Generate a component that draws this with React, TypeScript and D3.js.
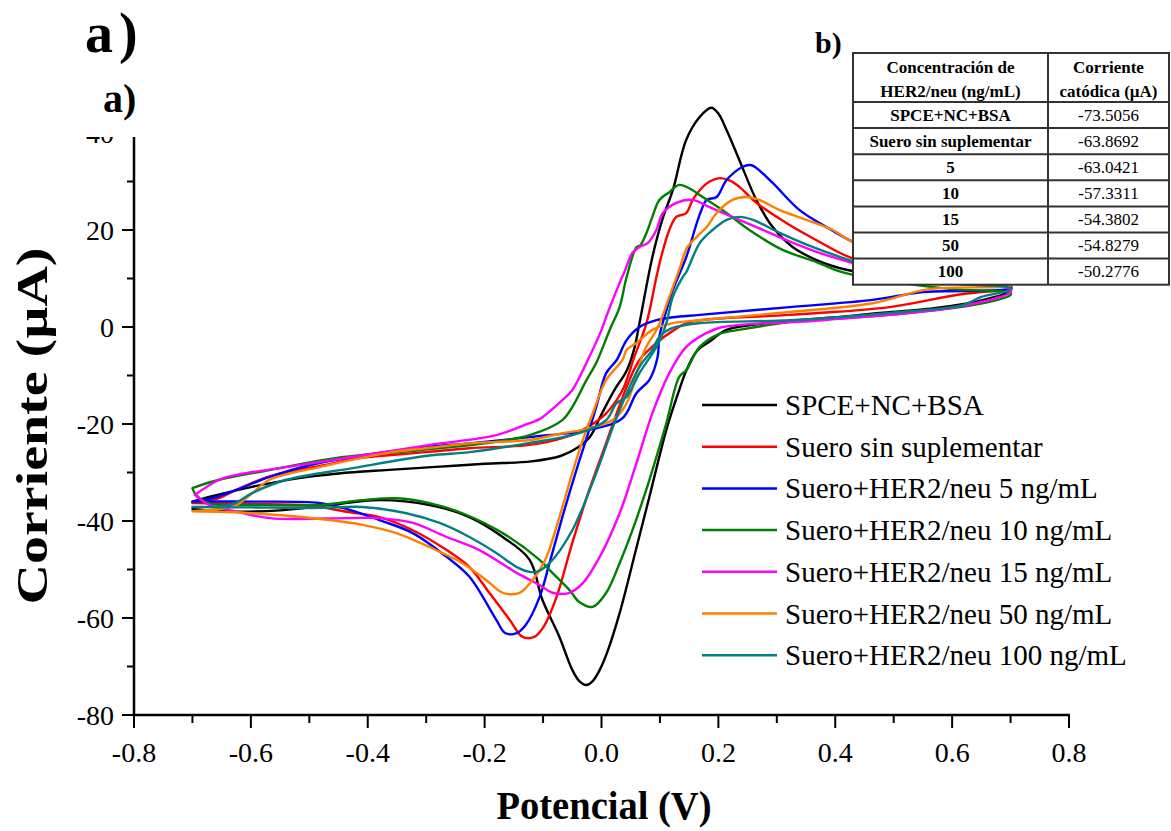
import React from 'react';
import * as d3 from 'd3';

type Pt = [number, number];

// ---------- axis ticks ----------
const xTicks = [-0.8, -0.6, -0.4, -0.2, 0, 0.2, 0.4, 0.6, 0.8];
const xMinorTicks = [-0.7, -0.5, -0.3, -0.1, 0.1, 0.3, 0.5, 0.7];
const yTicks = [-80, -60, -40, -20, 0, 20, 40];
const yMinorTicks = [-70, -50, -30, -10, 10, 30];

// ---------- series ----------
const seriesNames = [
  'SPCE+NC+BSA',
  'Suero sin suplementar',
  'Suero+HER2/neu 5 ng/mL',
  'Suero+HER2/neu 10 ng/mL',
  'Suero+HER2/neu 15 ng/mL',
  'Suero+HER2/neu 50 ng/mL',
  'Suero+HER2/neu 100 ng/mL',
];
const seriesColors = ['#000000', '#ff0000', '#0000ff', '#008000', '#ff00ff', '#ff8000', '#008080'];

// Potential (V), current (µA) — forward scan then reverse scan
const spceNcBsa: Pt[] = [
  [-0.70, -36.0], [-0.67, -35.0], [-0.60, -33.0], [-0.52, -31.2], [-0.45, -30.2], [-0.37, -29.5],
  [-0.29, -28.9], [-0.20, -28.2], [-0.12, -27.7], [-0.07, -26.6], [-0.04, -24.8], [-0.02, -22.7],
  [0.00, -18.0], [0.022, -13.0], [0.043, -9.0], [0.056, -4.5], [0.065, 0.8], [0.087, 14.4],
  [0.105, 22.5], [0.122, 28.2], [0.145, 38.6], [0.168, 43.3], [0.188, 45.2], [0.200, 44.0],
  [0.214, 40.6], [0.236, 34.4], [0.265, 26.2], [0.293, 20.6], [0.327, 16.5], [0.368, 13.8],
  [0.419, 11.8], [0.50, 10.2], [0.60, 9.0], [0.70, 8.3],
  [0.70, 7.5], [0.65, 5.5], [0.55, 3.6], [0.476, 2.9], [0.412, 2.1], [0.30, 1.0], [0.214, -0.6],
  [0.185, -3.0], [0.163, -5.0], [0.145, -9.0], [0.133, -13.0], [0.111, -21.2], [0.082, -35.0],
  [0.060, -45.4], [0.031, -59.0], [0.010, -67.0], [-0.003, -70.7], [-0.015, -73.0], [-0.026, -73.8],
  [-0.038, -73.0], [-0.050, -70.7], [-0.072, -63.9], [-0.101, -56.3], [-0.123, -48.0], [-0.169, -43.3],
  [-0.226, -39.2], [-0.294, -36.7], [-0.38, -35.7], [-0.465, -36.7], [-0.55, -37.8], [-0.65, -38.0],
  [-0.70, -37.5],
];

const sueroSinSuplementar: Pt[] = [
  [-0.70, -36.3], [-0.66, -35.5], [-0.625, -33.6], [-0.585, -31.5], [-0.539, -29.9], [-0.465, -28.3],
  [-0.426, -27.2], [-0.30, -25.8], [-0.226, -25.0], [-0.123, -24.3], [-0.067, -22.9], [-0.032, -21.2],
  [0.008, -17.8], [0.036, -13.0], [0.056, -6.2], [0.077, 0.8], [0.094, 10.3], [0.102, 14.4],
  [0.116, 20.0], [0.128, 22.7], [0.145, 23.5], [0.156, 26.2], [0.168, 28.2], [0.185, 30.0],
  [0.202, 30.7], [0.220, 30.2], [0.236, 28.9], [0.265, 25.6], [0.317, 21.4], [0.368, 17.9],
  [0.424, 14.4], [0.50, 11.5], [0.60, 9.2], [0.70, 8.2],
  [0.70, 7.8], [0.65, 7.2], [0.607, 6.6], [0.493, 4.1], [0.322, 2.5], [0.151, 1.0], [0.122, -0.8],
  [0.094, -3.3], [0.065, -6.8], [0.048, -10.9], [0.026, -17.8], [0.008, -23.9], [-0.021, -33.6],
  [-0.050, -44.5], [-0.077, -55.7], [-0.100, -62.0], [-0.115, -63.9], [-0.135, -63.9], [-0.157, -60.4],
  [-0.192, -54.8], [-0.226, -49.5], [-0.265, -46.0], [-0.323, -41.9], [-0.38, -39.2], [-0.436, -38.1],
  [-0.50, -36.8], [-0.60, -36.5], [-0.70, -36.3],
];

const her2_5: Pt[] = [
  [-0.70, -36.0], [-0.666, -35.3], [-0.625, -33.6], [-0.568, -30.9], [-0.50, -28.5], [-0.426, -26.8],
  [-0.294, -24.7], [-0.226, -24.0], [-0.123, -22.7], [-0.021, -21.2], [0.036, -18.8], [0.060, -13.6],
  [0.082, -10.9], [0.096, -6.2], [0.099, -2.0], [0.110, 3.0], [0.122, 7.6], [0.145, 14.4],
  [0.163, 21.4], [0.170, 23.8], [0.180, 26.2], [0.197, 26.8], [0.214, 30.3], [0.241, 33.0],
  [0.255, 33.4], [0.265, 32.8], [0.293, 29.7], [0.339, 24.1], [0.385, 20.6], [0.424, 17.9],
  [0.50, 14.0], [0.60, 10.5], [0.70, 8.6],
  [0.70, 8.0], [0.55, 7.2], [0.464, 5.6], [0.322, 4.1], [0.168, 2.5], [0.122, 2.0], [0.094, 1.4],
  [0.065, 0.0], [0.043, -2.7], [0.026, -6.8], [0.008, -9.5], [-0.009, -16.5], [-0.021, -21.2],
  [-0.043, -29.5], [-0.067, -39.2], [-0.089, -48.7], [-0.106, -55.7], [-0.130, -61.5], [-0.145, -63.1],
  [-0.165, -63.1], [-0.180, -60.4], [-0.226, -51.5], [-0.265, -47.4], [-0.323, -42.5], [-0.38, -39.8],
  [-0.431, -37.7], [-0.483, -36.3], [-0.597, -36.0], [-0.683, -36.0], [-0.70, -36.0],
];

const her2_10: Pt[] = [
  [-0.70, -33.2], [-0.654, -31.5], [-0.568, -29.5], [-0.453, -27.0], [-0.311, -25.4], [-0.20, -24.0],
  [-0.123, -22.3], [-0.067, -19.2], [-0.050, -16.5], [-0.026, -11.0], [-0.009, -7.4], [0.014, -0.6],
  [0.031, 4.1], [0.043, 10.3], [0.060, 16.5], [0.066, 16.8], [0.077, 19.4], [0.087, 22.7],
  [0.099, 26.2], [0.116, 27.8], [0.133, 29.3], [0.156, 28.2], [0.168, 27.2], [0.214, 23.5],
  [0.253, 20.0], [0.31, 15.9], [0.368, 13.4], [0.412, 11.3], [0.50, 9.3], [0.60, 7.8], [0.70, 7.0],
  [0.70, 6.6], [0.635, 4.5], [0.493, 2.5], [0.322, 1.0], [0.24, -0.5], [0.20, -1.5], [0.168, -4.1],
  [0.145, -8.9], [0.133, -10.3], [0.111, -19.8], [0.082, -31.5], [0.053, -41.9], [0.031, -48.7],
  [0.008, -54.8], [-0.015, -57.7], [-0.038, -56.7], [-0.055, -54.2], [-0.084, -50.7], [-0.106, -48.0],
  [-0.169, -42.5], [-0.238, -38.4], [-0.294, -36.3], [-0.351, -35.3], [-0.409, -35.7], [-0.483, -36.7],
  [-0.597, -36.7], [-0.67, -36.4], [-0.694, -34.6], [-0.70, -33.2],
];

const her2_15: Pt[] = [
  [-0.696, -34.6], [-0.654, -31.5], [-0.625, -30.5], [-0.539, -28.9], [-0.426, -26.8], [-0.294, -24.3],
  [-0.18, -22.3], [-0.123, -19.8], [-0.106, -19.0], [-0.067, -15.1], [-0.050, -13.0], [-0.021, -6.2],
  [0.000, -0.6], [0.008, 2.1], [0.031, 9.1], [0.039, 11.3], [0.053, 15.3], [0.065, 16.5],
  [0.079, 17.3], [0.094, 20.0], [0.105, 23.5], [0.128, 25.6], [0.156, 26.2], [0.185, 24.7],
  [0.224, 22.7], [0.265, 20.6], [0.317, 17.9], [0.368, 15.5], [0.424, 13.4], [0.50, 11.0],
  [0.60, 9.0], [0.70, 7.8],
  [0.70, 7.2], [0.607, 4.1], [0.378, 1.4], [0.207, 0.0], [0.18, -1.2], [0.145, -4.1], [0.116, -9.5],
  [0.087, -17.8], [0.060, -28.0], [0.031, -38.4], [-0.003, -47.4], [-0.032, -52.8], [-0.055, -54.8],
  [-0.084, -54.8], [-0.106, -53.2], [-0.145, -50.7], [-0.209, -46.0], [-0.265, -43.3], [-0.323, -40.4],
  [-0.38, -39.4], [-0.436, -39.4], [-0.568, -39.4], [-0.637, -37.7], [-0.671, -36.7], [-0.696, -34.6],
];

const her2_50: Pt[] = [
  [-0.70, -38.0], [-0.654, -37.5], [-0.625, -36.7], [-0.597, -34.2], [-0.568, -31.5], [-0.483, -28.9],
  [-0.368, -26.0], [-0.294, -24.9], [-0.226, -24.0], [-0.123, -23.3], [-0.067, -21.9], [-0.032, -21.2],
  [0.019, -19.2], [0.036, -17.1], [0.048, -14.4], [0.060, -9.5], [0.075, -4.5], [0.094, -0.6],
  [0.105, 2.5], [0.116, 6.2], [0.133, 11.8], [0.147, 16.5], [0.163, 18.6], [0.18, 20.6],
  [0.197, 23.5], [0.224, 26.2], [0.248, 26.8], [0.27, 26.2], [0.305, 24.1], [0.351, 22.1],
  [0.396, 20.0], [0.424, 17.9], [0.50, 14.5], [0.60, 11.0], [0.70, 8.8],
  [0.70, 8.5], [0.561, 7.8], [0.464, 4.9], [0.322, 3.1], [0.168, 1.4], [0.122, 0.8], [0.087, -0.6],
  [0.060, -3.3], [0.043, -4.7], [0.036, -6.8], [0.008, -10.9], [-0.015, -17.8], [-0.032, -23.3],
  [-0.050, -30.1], [-0.072, -39.2], [-0.094, -47.4], [-0.106, -50.1], [-0.128, -53.6], [-0.140, -54.8],
  [-0.169, -54.8], [-0.197, -52.2], [-0.238, -48.7], [-0.294, -45.4], [-0.351, -42.5], [-0.409, -40.8],
  [-0.465, -39.8], [-0.597, -38.4], [-0.70, -38.0],
];

const her2_100: Pt[] = [
  [-0.70, -37.1], [-0.654, -37.0], [-0.63, -36.5], [-0.597, -34.2], [-0.539, -31.5], [-0.426, -29.1],
  [-0.294, -26.5], [-0.226, -25.8], [-0.123, -23.9], [-0.038, -21.9], [0.008, -19.2], [0.026, -15.7],
  [0.043, -14.4], [0.065, -9.5], [0.087, -5.5], [0.099, -3.0], [0.111, 0.8], [0.122, 6.2],
  [0.139, 10.3], [0.145, 11.3], [0.168, 17.3], [0.19, 20.0], [0.214, 22.1], [0.236, 22.7],
  [0.259, 22.1], [0.305, 19.4], [0.361, 16.5], [0.424, 13.8], [0.50, 11.0], [0.60, 9.0], [0.70, 8.0],
  [0.698, 7.6], [0.65, 6.2], [0.618, 4.5], [0.493, 2.9], [0.322, 1.4], [0.168, 0.8], [0.122, -0.2],
  [0.099, -2.0], [0.087, -4.7], [0.065, -8.2], [0.026, -18.6], [-0.009, -30.1], [-0.050, -41.9],
  [-0.089, -48.7], [-0.111, -50.5], [-0.123, -50.5], [-0.145, -49.5], [-0.18, -46.6], [-0.226, -43.3],
  [-0.277, -40.4], [-0.334, -38.4], [-0.409, -37.1], [-0.483, -37.3], [-0.60, -37.2], [-0.70, -37.1],
];

const allSeries = [spceNcBsa, sueroSinSuplementar, her2_5, her2_10, her2_15, her2_50, her2_100];

// ---------- table (panel b) ----------
const tableHeaderLeft = ['Concentración de', 'HER2/neu (ng/mL)'];
const tableHeaderRight = ['Corriente', 'catódica (µA)'];
const tableLabels = ['SPCE+NC+BSA', 'Suero sin suplementar', '5', '10', '15', '50', '100'];
const tableValues = ['-73.5056', '-63.8692', '-63.0421', '-57.3311', '-54.3802', '-54.8279', '-50.2776'];

const SERIF = "'Liberation Serif', 'Times New Roman', Times, serif";

export default function App() {
  const W = 1171;
  const H = 831;
  const x = d3.scaleLinear().domain([-0.8, 0.8]).range([134, 1069]);
  const y = d3.scaleLinear().domain([-80, 40]).range([715, 133]);
  const line = d3
    .line<Pt>()
    .x((d) => x(d[0]))
    .y((d) => y(d[1]))
    .curve(d3.curveCatmullRom.alpha(0.5));

  const axisX = x(-0.8);
  const axisY = y(-80);

  // table geometry
  const tL = 853, tR = 1169, tMid = 1048, tTop = 53, tHeadBottom = 102, rowH = 26.1;
  const rowTops = tableLabels.map((_, i) => tHeadBottom + i * rowH);
  const tBottom = tHeadBottom + tableLabels.length * rowH;

  const legendTop = 405;
  const legendStep = 41.7;

  return (
    <svg
      width={W}
      height={H}
      viewBox={`0 0 ${W} ${H}`}
      style={{ position: 'absolute', left: 0, top: 0, background: '#fff' }}
    >
      <rect x={0} y={0} width={W} height={H} fill="#fff" />

      {/* curves */}
      {allSeries.map((s, i) => (
        <path
          key={i}
          d={line(s) || ''}
          fill="none"
          stroke={seriesColors[i]}
          strokeWidth={2.4}
          strokeLinejoin="round"
          strokeLinecap="round"
        />
      ))}

      {/* x axis */}
      <line x1={axisX - 1} x2={x(0.8) + 1} y1={axisY} y2={axisY} stroke="#000" strokeWidth={2.5} />
      {xTicks.map((t) => (
        <g key={'xt' + t}>
          <line x1={x(t)} x2={x(t)} y1={axisY} y2={axisY + 13} stroke="#000" strokeWidth={2} />
          <text
            x={x(t)}
            y={axisY + 47}
            textAnchor="middle"
            fontFamily={SERIF}
            fontSize={28}
            fill="#000"
          >
            {t.toFixed(1)}
          </text>
        </g>
      ))}
      {xMinorTicks.map((t) => (
        <line key={'xm' + t} x1={x(t)} x2={x(t)} y1={axisY} y2={axisY + 8} stroke="#000" strokeWidth={2} />
      ))}

      {/* y axis */}
      <line x1={axisX} x2={axisX} y1={axisY + 1} y2={y(45)} stroke="#000" strokeWidth={2.5} />
      {yTicks.map((t) => (
        <g key={'yt' + t}>
          <line x1={axisX - 12} x2={axisX} y1={y(t)} y2={y(t)} stroke="#000" strokeWidth={2} />
          <text
            x={axisX - 20}
            y={y(t) + 10}
            textAnchor="end"
            fontFamily={SERIF}
            fontSize={28}
            fill="#000"
          >
            {String(t)}
          </text>
        </g>
      ))}
      {yMinorTicks.map((t) => (
        <line key={'ym' + t} x1={axisX - 7} x2={axisX} y1={y(t)} y2={y(t)} stroke="#000" strokeWidth={2} />
      ))}

      {/* white label box covering top-left */}
      <rect x={0} y={0} width={600} height={137} fill="#fff" />

      {/* panel labels */}
      <text x={85} y={52} fontFamily={SERIF} fontWeight={700} fontSize={56} fill="#000">
        a<tspan dx={6}>)</tspan>
      </text>
      <text x={103} y={112} fontFamily={SERIF} fontWeight={700} fontSize={40} fill="#000">
        a)
      </text>

      {/* axis titles */}
      <text
        x={604}
        y={819}
        textAnchor="middle"
        fontFamily={SERIF}
        fontWeight={700}
        fontSize={40}
        textLength={215}
        lengthAdjust="spacingAndGlyphs"
        fill="#000"
      >
        Potencial (V)
      </text>
      <text
        transform={`translate(47, 426) rotate(-90)`}
        textAnchor="middle"
        fontFamily={SERIF}
        fontWeight={700}
        fontSize={44}
        textLength={357}
        lengthAdjust="spacingAndGlyphs"
        fill="#000"
      >
        Corriente (µA)
      </text>

      {/* legend */}
      {seriesNames.map((name, i) => {
        const ly = legendTop + i * legendStep;
        return (
          <g key={'lg' + i}>
            <line x1={702} x2={777} y1={ly} y2={ly} stroke={seriesColors[i]} strokeWidth={2.5} />
            <text x={785} y={ly + 10} fontFamily={SERIF} fontSize={29} fill="#000">
              {name}
            </text>
          </g>
        );
      })}

      {/* table */}
      <text x={815} y={53} fontFamily={SERIF} fontWeight={700} fontSize={30} fill="#000">
        b)
      </text>
      <rect x={tL} y={tTop} width={tR - tL} height={tBottom - tTop} fill="#fff" stroke="#333" strokeWidth={2} />
      <line x1={tMid} x2={tMid} y1={tTop} y2={tBottom} stroke="#333" strokeWidth={2} />
      {rowTops.map((rt, i) => (
        <line key={'rl' + i} x1={tL} x2={tR} y1={rt} y2={rt} stroke="#333" strokeWidth={2} />
      ))}
      {tableHeaderLeft.map((s, i) => (
        <text
          key={'hl' + i}
          x={(tL + tMid) / 2}
          y={tTop + 20 + i * 24}
          textAnchor="middle"
          fontFamily={SERIF}
          fontWeight={700}
          fontSize={17}
          fill="#000"
        >
          {s}
        </text>
      ))}
      {tableHeaderRight.map((s, i) => (
        <text
          key={'hr' + i}
          x={(tMid + tR) / 2}
          y={tTop + 20 + i * 24}
          textAnchor="middle"
          fontFamily={SERIF}
          fontWeight={700}
          fontSize={17}
          fill="#000"
        >
          {s}
        </text>
      ))}
      {tableLabels.map((s, i) => (
        <text
          key={'tlab' + i}
          x={(tL + tMid) / 2}
          y={rowTops[i] + 18.5}
          textAnchor="middle"
          fontFamily={SERIF}
          fontWeight={700}
          fontSize={17}
          fill="#000"
        >
          {s}
        </text>
      ))}
      {tableValues.map((s, i) => (
        <text
          key={'tval' + i}
          x={(tMid + tR) / 2}
          y={rowTops[i] + 18.5}
          textAnchor="middle"
          fontFamily={SERIF}
          fontSize={17}
          fill="#000"
        >
          {s}
        </text>
      ))}
    </svg>
  );
}
